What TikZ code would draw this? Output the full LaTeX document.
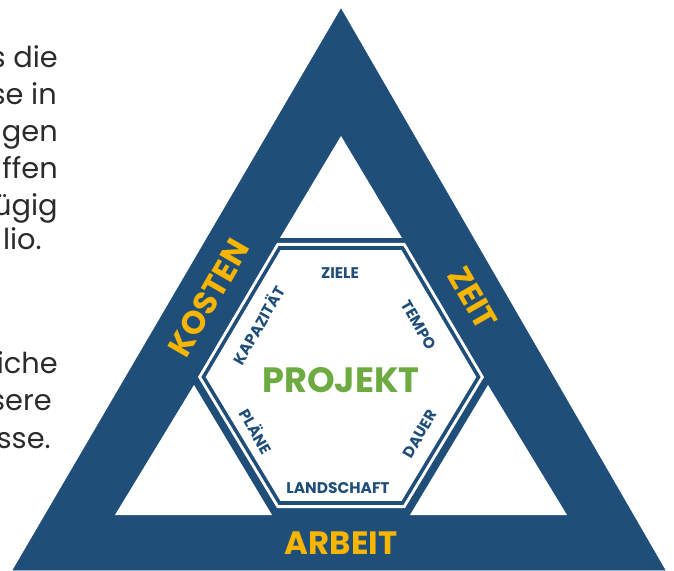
\documentclass[tikz,border=0pt]{standalone}
\usepackage{fontspec}
\setmainfont{Poppins}
\usepackage{xcolor}
\usepackage{tikz}

\definecolor{triblue}{HTML}{1F4E79}
\definecolor{sideyellow}{HTML}{F7B500}
\definecolor{projgreen}{HTML}{6DAA3F}
\definecolor{paragray}{HTML}{2B2B2B}

\tikzset{
  side/.style={text=sideyellow,font=\bfseries\fontsize{23}{23}\selectfont},
  small/.style={text=triblue,font=\bfseries\fontsize{11}{11}\selectfont},
  para/.style={text=paragray,font=\fontsize{20.5}{20.5}\selectfont,anchor=base east,inner sep=0pt}
}

\begin{document}
\begin{tikzpicture}[x=0.025cm,y=0.025cm]
\useasboundingbox (0,0) rectangle (674,570);

% cut off paragraph on the left
\node[para] (l1) at (58,502) {s die};
\node[para] (l2) at (57,465) {se in};
\node[para] (l3) at (58,428) {ngen};
\node[para] (l4) at (58,391) {uffen};
\node[para] (l5) at (58,354) {ügig};
\node[para] (l6) at (42,320) {lio.};
\node[para] (m1) at (58,196) {iche};
\node[para] (m2) at (52,159) {sere};
\node[para] (m3) at (51,121) {sse.};

% triangle
\filldraw[triblue] (341,561) -- (13,0) -- (665,0) -- cycle;
\fill[white] (341,434) -- (280,332) -- (402,332) -- cycle;
\fill[white] (115,55) -- (272,55) -- (194,185) -- cycle;
\fill[white] (567,55) -- (410,55) -- (488,185) -- cycle;

% hexagon, white line, blue line, white inside
\foreach \s/\c in {1/white,0.976/triblue,0.946/white}
  \fill[\c,shift={(341,193)},scale=\s] (-64,134) -- (64,134) -- (143,0) -- (64,-131) -- (-64,-131) -- (-143,0) -- cycle;

\node[side,rotate=60] (kosten) at (209,272) {KOSTEN};
\node[side,rotate=-60] (zeit) at (473,272) {ZEIT};
\node[side] (arbeit) at (341,27) {ARBEIT};

\node[text=projgreen,font=\bfseries\fontsize{25}{25}\selectfont] (projekt) at (341,190) {PROJEKT};

\node[small] (ziele) at (340,297) {ZIELE};
\node[small,rotate=-60] (tempo) at (419,245) {TEMPO};
\node[small,rotate=60] (dauer) at (420,136) {DAUER};
\node[small] (landschaft) at (338,82) {LANDSCHAFT};
\node[small,rotate=-60] (plaene) at (257,139) {PLÄNE};
\node[small,rotate=60] (kapazitaet) at (258,245) {KAPAZITÄT};

\end{tikzpicture}
\end{document}
